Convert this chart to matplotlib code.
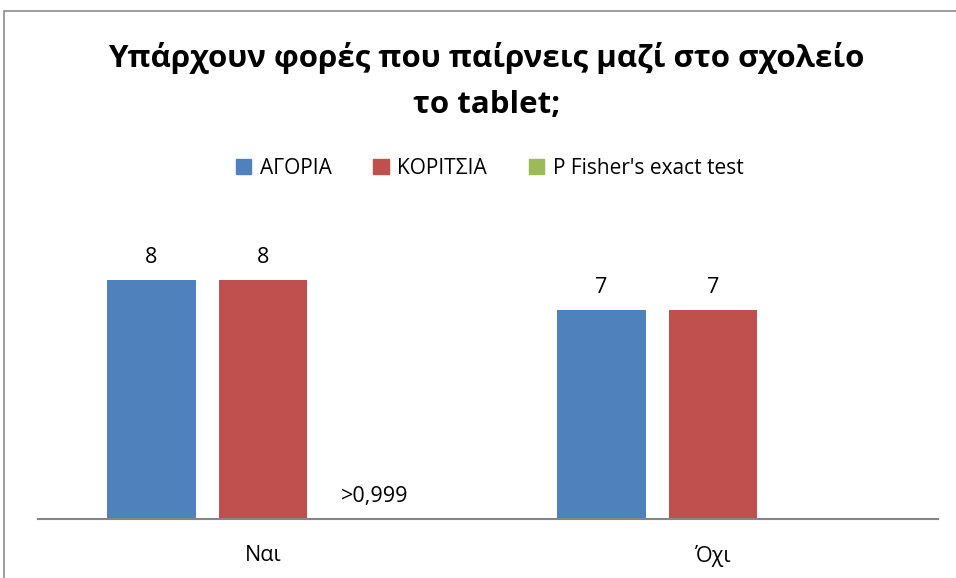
import numpy as np
import matplotlib
matplotlib.use("Agg")
import matplotlib.pyplot as plt
from matplotlib.patches import Rectangle, Patch

categories = ["Ναι", "Όχι"]
series_names = ["ΑΓΟΡΙΑ", "ΚΟΡΙΤΣΙΑ", "P Fisher's exact test"]
boys = [8, 7]
girls = [8, 7]
p_fisher = [0, None]
p_labels = [">0,999", None]

colors = ["#4F81BD", "#C0504D", "#9BBB59"]

plt.rcParams['font.family'] = ['Open Sans', 'DejaVu Sans']

fig = plt.figure(figsize=(9.56, 5.78), dpi=100)
ax = fig.add_axes([38/956, 59/578, 900/956, 299/578])

x = np.arange(len(categories))
step = 0.248
width = 0.197

b1 = ax.bar(x - step, boys, width, color=colors[0])
b2 = ax.bar(x, girls, width, color=colors[1])
for bars in (b1, b2):
	for r in bars:
		ax.text(r.get_x() + r.get_width()/2, r.get_height() + 0.4, str(int(r.get_height())),
			ha='center', va='bottom', fontsize=15.5)

# third series: only a label at the baseline
for i, (v, lab) in enumerate(zip(p_fisher, p_labels)):
	if v is None:
		continue
	ax.bar(x[i] + step, v, width, color=colors[2])
	ax.text(x[i] + step, v + 0.4, lab, ha='center', va='bottom', fontsize=15.5)

ax.set_xlim(-0.5, 1.5)
ax.set_ylim(0, 10)
for s in ('top', 'right', 'left'):
	ax.spines[s].set_visible(False)
ax.spines['bottom'].set_color('#868686')
ax.spines['bottom'].set_linewidth(1.5)
ax.set_yticks([])
ax.set_xticks(x)
ax.set_xticklabels(categories, fontsize=15.5)
ax.tick_params(axis='x', length=0, pad=19)

fig.text(0.509, 0.860, "Υπάρχουν φορές που παίρνεις μαζί στο σχολείο\nτο tablet;",
	ha='center', va='center', fontsize=22.5, fontweight='bold', linespacing=1.72)

handles = [Patch(color=c) for c in colors]
fig.legend(handles, series_names, loc='center', bbox_to_anchor=(0.512, 0.709), ncol=3,
	frameon=False, fontsize=15, handlelength=0.75, handleheight=0.75, handletextpad=0.4,
	columnspacing=2.0)

fig.patches.append(Rectangle((4/956, -0.1), 1.2, (578-11)/578 + 0.1, transform=fig.transFigure,
	fill=False, edgecolor='#8C8C8C', linewidth=1.2))

fig.savefig("out.png", dpi=100)
